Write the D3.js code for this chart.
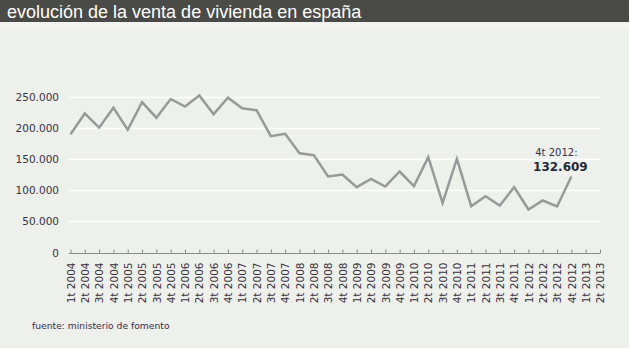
<!DOCTYPE html>
<html><head><meta charset="utf-8">
<script src="https://cdn.jsdelivr.net/npm/d3@7"></script>
<style>
html,body{margin:0;padding:0;background:#ffffff;}
svg{display:block;}
</style></head>
<body>
<svg id="c" width="630" height="350"></svg>
<script>
const categories = ["1t 2004","2t 2004","3t 2004","4t 2004","1t 2005","2t 2005","3t 2005","4t 2005","1t 2006","2t 2006","3t 2006","4t 2006","1t 2007","2t 2007","3t 2007","4t 2007","1t 2008","2t 2008","3t 2008","4t 2008","1t 2009","2t 2009","3t 2009","4t 2009","1t 2010","2t 2010","3t 2010","4t 2010","1t 2011","2t 2011","3t 2011","4t 2011","1t 2012","2t 2012","3t 2012","4t 2012","1t 2013","2t 2013"];
const ventas = [189500,222800,200000,232000,196600,240900,216000,246000,234000,251600,221700,248000,231000,228000,186400,190200,159000,156000,122000,125000,104700,118000,105800,129800,106300,152800,79600,150000,74200,90300,75300,104700,69000,83300,73700,121800];
const yTicks = [0,50000,100000,150000,200000,250000];
const titleText = "evolución de la venta de vivienda en españa";
const sourceText = "fuente: ministerio de fomento";
const annotationLabel = "4t 2012:";
const annotationValue = "132.609";

const svg = d3.select("#c");
const fmt = d3.formatLocale({decimal:",", thousands:".", grouping:[3], currency:["","€"]}).format(",");

// background
svg.append("rect").attr("x",0).attr("y",0).attr("width",629).attr("height",348).attr("fill","#eef0ec");
// title bar
svg.append("rect").attr("x",0).attr("y",0).attr("width",629).attr("height",22).attr("fill","#4a4a46");
svg.append("rect").attr("x",0).attr("y",22).attr("width",629).attr("height",7).attr("fill","#f3f4f1");
svg.append("text").attr("x",7).attr("y",18).attr("fill","#ffffff")
  .style("font-family","'Liberation Sans', Arial, sans-serif").style("font-size","18px")
  .text(titleText);

const x = d3.scalePoint().domain(categories).range([70.5, 600]);
const y = d3.scaleLinear().domain([0, 250000]).range([252.5, 96.5]);

// grid
svg.append("g").selectAll("line").data(yTicks.filter(d=>d>0)).join("line")
  .attr("x1",69).attr("x2",600).attr("y1",d=>Math.round(y(d))+0.5).attr("y2",d=>Math.round(y(d))+0.5)
  .attr("stroke","#ffffff").attr("stroke-width",1.5);

// y labels
svg.append("g").selectAll("text").data(yTicks).join("text")
  .attr("x",59).attr("y",d=>y(d)+4).attr("text-anchor","end")
  .attr("fill","#3a3040").style("font-family","'DejaVu Sans', Verdana, sans-serif").style("font-size","10.5px")
  .text(d=>fmt(d));

// x axis
const xAxis = d3.axisBottom(x).tickSize(-4).tickPadding(0);
const gx = svg.append("g").attr("transform","translate(0,253.5)").call(xAxis);
gx.select(".domain").attr("d","M69,0H600").attr("stroke","#8a8a8a");
gx.selectAll(".tick line").attr("stroke","#8a8a8a");
gx.selectAll(".tick text")
  .attr("transform","rotate(-90)").attr("x",-9).attr("y",0).attr("dy","0.35em")
  .attr("text-anchor","end").attr("fill","#3a3040")
  .style("font-family","'DejaVu Sans', Verdana, sans-serif").style("font-size","10.5px");

// line
const line = d3.line().x((d,i)=>x(categories[i])).y(d=>y(d));
svg.append("path").datum(ventas).attr("d",line).attr("fill","none")
  .attr("stroke","#999999").attr("stroke-width",2.5).attr("stroke-linejoin","miter");

// annotation
const lastCat = categories[ventas.length-1];
svg.append("text").attr("x",x(lastCat)-15).attr("y",156).attr("text-anchor","middle")
  .attr("fill","#333344").style("font-family","'DejaVu Sans', Verdana, sans-serif").style("font-size","10px")
  .text(annotationLabel);
svg.append("text").attr("x",x(lastCat)-11).attr("y",171).attr("text-anchor","middle")
  .attr("fill","#1c2a3c").style("font-family","'DejaVu Sans', Verdana, sans-serif").style("font-size","12px").style("font-weight","bold")
  .text(annotationValue);

// source
svg.append("text").attr("x",32).attr("y",329).attr("fill","#3a2a4a")
  .style("font-family","'DejaVu Sans', Verdana, sans-serif").style("font-size","9.2px")
  .text(sourceText);
</script>
</body></html>
